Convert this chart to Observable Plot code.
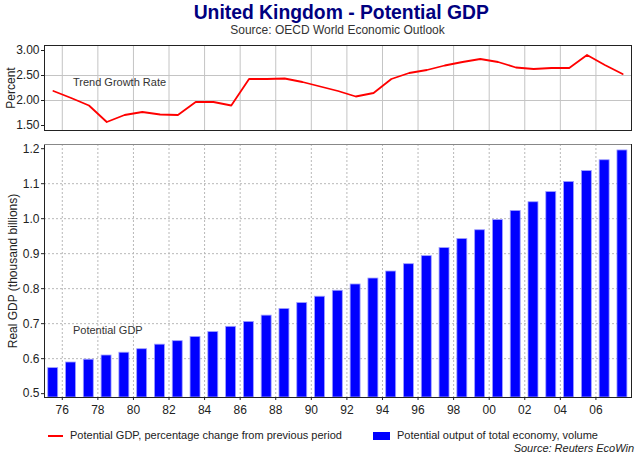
<!DOCTYPE html>
<html>
<head>
<meta charset="utf-8">
<script src="https://cdn.jsdelivr.net/npm/d3@7"></script>
<script src="https://cdn.jsdelivr.net/npm/@observablehq/plot@0.6"></script>
<style>
  html, body { margin: 0; padding: 0; background: #fff; }
  #chart { position: relative; width: 640px; height: 456px; font-family: "Liberation Sans", Arial, sans-serif; overflow: hidden; }
  .abs { position: absolute; }
  #title { left: 44px; width: 587px; top: 0px; text-align: center; font-weight: bold; font-size: 21px; color: #00007f; line-height: 24px; transform: scaleX(0.92); transform-origin: 340px 0; }
  #subtitle { left: 44px; width: 587px; top: 24px; text-align: center; font-size: 12px; color: #333; line-height: 13px; }
  #top { left: 0; top: 36px; }
  #bottom { left: 0; top: 140px; }
  .leg { font-size: 11px; color: #222; line-height: 11px; white-space: nowrap; }
  #source { right: 6px; top: 442px; font-size: 11px; line-height: 12px; font-style: italic; color: #222; }
</style>
</head>
<body>
<div id="chart">
  <div id="title" class="abs">United Kingdom - Potential GDP</div>
  <div id="subtitle" class="abs">Source: OECD World Economic Outlook</div>
  <div id="top" class="abs"></div>
  <div id="bottom" class="abs"></div>
  <div class="abs" style="left:48px;top:435px;width:15px;height:2px;background:#ff0000"></div>
  <div class="abs leg" style="left:70px;top:430px">Potential GDP, percentage change from previous period</div>
  <div class="abs" style="left:373px;top:432px;width:17px;height:8px;background:#0000ff"></div>
  <div class="abs leg" style="left:397px;top:430px">Potential output of total economy, volume</div>
  <div id="source" class="abs">Source: Reuters EcoWin</div>
</div>
<script>
const years = d3.range(1975, 2008);
const growthRate = [2.19, 2.05, 1.90, 1.57, 1.71, 1.77, 1.72, 1.71, 1.97, 1.97, 1.90,
  2.43, 2.43, 2.44, 2.37, 2.28, 2.19, 2.08, 2.15, 2.43, 2.55, 2.61, 2.70, 2.77, 2.83,
  2.77, 2.66, 2.63, 2.65, 2.65, 2.91, 2.71, 2.53];
const potentialGDP = [0.573, 0.589, 0.597, 0.609, 0.617, 0.627, 0.640, 0.650, 0.662, 0.676, 0.691,
  0.705, 0.723, 0.742, 0.759, 0.777, 0.794, 0.812, 0.829, 0.849, 0.870, 0.893, 0.916, 0.942, 0.967,
  0.996, 1.022, 1.047, 1.076, 1.105, 1.136, 1.167, 1.195];
const xTicks = d3.range(1976, 2007, 2);
const topTicks = [1.5, 2.0, 2.5, 3.0];
const topGrid = [2.0, 2.5];
const bottomTicks = [0.5, 0.6, 0.7, 0.8, 0.9, 1.0, 1.1, 1.2];
const bottomGrid = [0.6, 0.7, 0.8, 0.9, 1.0, 1.1];
const xDomain = [1975, 2008];
const topDomain = [1.4, 3.1];
const bottomDomain = [0.489, 1.212];
const topLabel = [{x: 1976.6, y: 2.36, text: "Trend Growth Rate"}];
const bottomLabel = [{x: 1976.6, y: 0.681, text: "Potential GDP"}];

const lineData = years.map((y, i) => ({year: y + 0.5, value: growthRate[i]}));
const barData = years.map((y, i) => ({year: y, value: potentialGDP[i]}));

const fmt2 = d => String(d % 100).padStart(2, "0");

const topPlot = Plot.plot({
  width: 640, height: 104,
  marginLeft: 44, marginRight: 9, marginTop: 9, marginBottom: 10,
  style: {fontFamily: "Liberation Sans, Arial, sans-serif", fontSize: "12px", color: "#222", background: "transparent"},
  x: {domain: xDomain, axis: null},
  y: {domain: topDomain, axis: null},
  marks: [
    Plot.ruleX(xTicks, {stroke: "#c4c4c4", strokeWidth: 1}),
    Plot.ruleY(topGrid, {stroke: "#c4c4c4", strokeWidth: 1}),
    Plot.axisY(topTicks, {tickSize: 3, tickPadding: 2, tickFormat: d3.format(".2f"), label: null, fontSize: 12}),
    Plot.text(["Percent"], {frameAnchor: "left", textAnchor: "middle", dx: -33, rotate: -90, fontSize: 12, fill: "#222"}),
    Plot.text(topLabel, {x: "x", y: "y", text: "text", textAnchor: "start", fontSize: 11, fill: "#333"}),
    Plot.line(lineData, {x: "year", y: "value", stroke: "#ff0000", strokeWidth: 1.8}),
    Plot.frame({stroke: "#222"})
  ]
});
document.getElementById("top").append(topPlot);

const bottomPlot = Plot.plot({
  width: 640, height: 290,
  marginLeft: 44, marginRight: 9, marginTop: 4, marginBottom: 33,
  style: {fontFamily: "Liberation Sans, Arial, sans-serif", fontSize: "12px", color: "#222", background: "transparent"},
  x: {domain: xDomain, axis: null},
  y: {domain: bottomDomain, axis: null},
  marks: [
    Plot.ruleX(xTicks, {stroke: "#b8b8b8", strokeWidth: 1, strokeDasharray: "2,2"}),
    Plot.ruleY(bottomGrid, {stroke: "#b8b8b8", strokeWidth: 1, strokeDasharray: "2,2"}),
    Plot.rectY(barData, {x1: d => d.year + 0.21, x2: d => d.year + 0.77, y1: bottomDomain[0], y2: "value", fill: "#0000ff", stroke: "#a0a0ff", strokeWidth: 0.8}),
    Plot.axisY(bottomTicks, {tickSize: 3, tickPadding: 2, tickFormat: d3.format(".1f"), label: null, fontSize: 12}),
    Plot.axisX(xTicks, {tickSize: 3, tickPadding: 5, tickFormat: fmt2, label: null, fontSize: 12}),
    Plot.text(["Real GDP (thousand billions)"], {frameAnchor: "left", textAnchor: "middle", dx: -31, rotate: -90, fontSize: 12, fill: "#222"}),
    Plot.text(bottomLabel, {x: "x", y: "y", text: "text", textAnchor: "start", fontSize: 11, fill: "#333"}),
    Plot.frame({stroke: "#222"}),
    Plot.ruleY([bottomDomain[1]], {stroke: "#888"})
  ]
});
document.getElementById("bottom").append(bottomPlot);
</script>
</body>
</html>
